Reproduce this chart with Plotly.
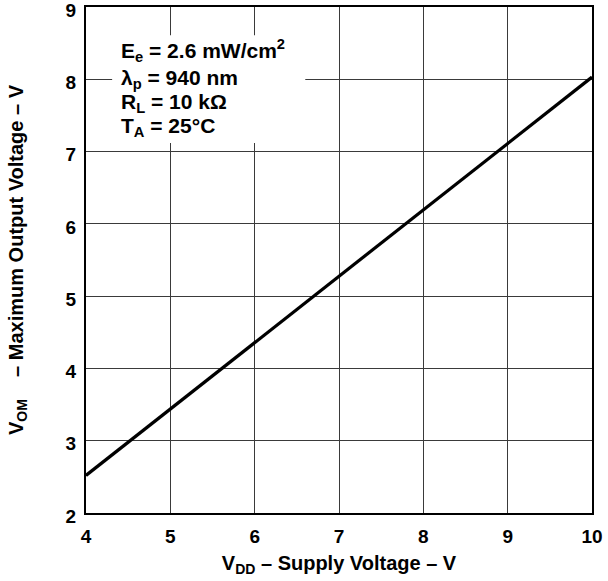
import plotly.graph_objects as go

supply_v = [4, 10]
max_out_v = [2.52, 8.03]
x_ticks = [4, 5, 6, 7, 8, 9, 10]
y_ticks = [2, 3, 4, 5, 6, 7, 8, 9]

condition_lines = ["E<sub>e</sub> = 2.6 mW/cm<sup>2</sup>",
                   "λ<sub>p</sub> = 940 nm",
                   "R<sub>L</sub> = 10 kΩ",
                   "T<sub>A</sub> = 25°C"]
condition_y = [8.40, 8.00, 7.67, 7.34]

font = "Liberation Sans, Arial, sans-serif"

fig = go.Figure()
fig.add_trace(go.Scatter(x=supply_v, y=max_out_v, mode="lines",
                         line=dict(color="black", width=3.2), showlegend=False))

fig.add_shape(type="rect", x0=4.31, x1=6.6, y0=7.12, y1=8.61,
              fillcolor="white", line=dict(width=0), layer="above")
for txt, yv in zip(condition_lines, condition_y):
    fig.add_annotation(x=4.39, y=yv, xref="x", yref="y", text=txt,
                       showarrow=False, align="left", xanchor="left", yanchor="middle",
                       font=dict(family=font, size=21, color="black", weight="bold"))

axis_common = dict(showline=True, linecolor="black", linewidth=2, mirror=True,
                   showgrid=True, gridcolor="#3a3a3a", gridwidth=1,
                   ticks="", zeroline=False, automargin=False,
                   ticklabeloverflow="allow",
                   tickfont=dict(family=font, size=19, color="black", weight="bold"),
                   title_font=dict(family=font, size=20, color="black", weight="bold"))

fig.update_xaxes(range=[4, 10], tickvals=x_ticks, ticktext=[str(v) for v in x_ticks],
                 ticklabelstandoff=5,
                 title_text="V<sub>DD</sub> – Supply Voltage – V", title_standoff=10,
                 **axis_common)
fig.update_yaxes(range=[2, 9], tickvals=y_ticks, ticktext=[str(v) for v in y_ticks],
                 ticklabelstandoff=4, ticklabelshift=3,
                 title_text="V<sub>OM</sub>    – Maximum Output Voltage – V", title_standoff=37,
                 **axis_common)

fig.update_layout(width=608, height=581, margin=dict(l=86, r=16, t=7, b=68),
                  plot_bgcolor="white", paper_bgcolor="white",
                  font=dict(family=font, color="black"))

fig.write_html("out.html", config={"displayModeBar": False},
               post_script="document.body.style.margin='0';")
